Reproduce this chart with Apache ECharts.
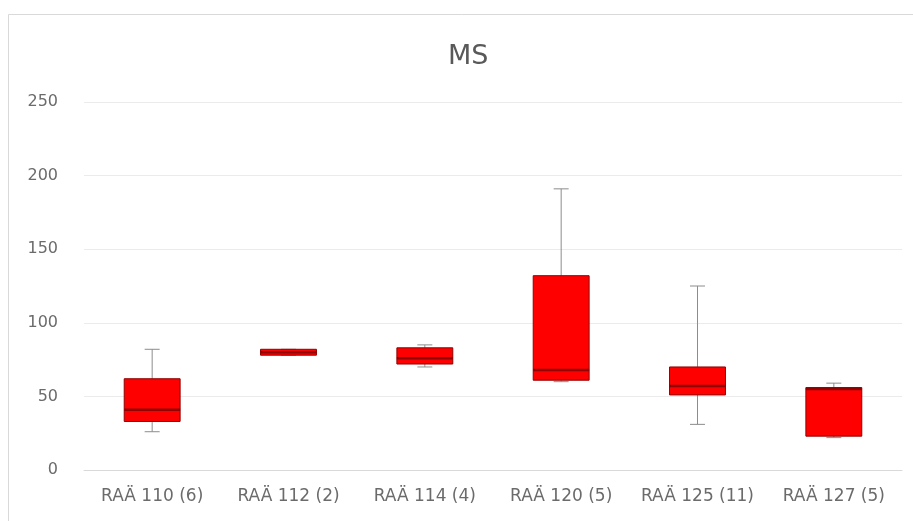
<!DOCTYPE html>
<html>
<head>
<meta charset="utf-8">
<script src="https://cdn.jsdelivr.net/npm/echarts@6/dist/echarts.min.js"></script>
<style>html,body{margin:0;padding:0;background:#fff}#c{width:913px;height:521px}</style>
</head>
<body>
<div id="c"></div>
<script>
var categories = ['RAÄ 110 (6)', 'RAÄ 112 (2)', 'RAÄ 114 (4)', 'RAÄ 120 (5)', 'RAÄ 125 (11)', 'RAÄ 127 (5)'];
var minVals    = [26, 78, 70, 60, 31, 22];
var q1Vals     = [33, 78, 72, 61, 51, 23];
var medianVals = [41, 80, 76, 68, 57, 55];
var q3Vals     = [62, 82, 83, 132, 70, 56];
var maxVals    = [82, 82, 85, 191, 125, 59];
var yTicks = [0, 50, 100, 150, 200, 250];

var boxData = categories.map(function (c, i) {
  return [i, minVals[i], q1Vals[i], medianVals[i], q3Vals[i], maxVals[i]];
});

var chart = echarts.init(document.getElementById('c'), null, {renderer: 'canvas'});
chart.setOption({
  animation: false,
  backgroundColor: '#ffffff',
  title: {
    text: 'MS', left: 443, top: 38,
    textStyle: {fontFamily: 'DejaVu Sans', fontSize: 27, fontWeight: 'normal', color: '#595959'}
  },
  graphic: [{
    type: 'rect', shape: {x: 8.5, y: 14.5, width: 1000, height: 1000},
    style: {fill: 'none', stroke: '#d9d9d9', lineWidth: 1}, silent: true
  }],
  grid: {left: 84, right: 11, top: 102, bottom: 51},
  xAxis: {
    type: 'category', data: categories,
    axisLine: {lineStyle: {color: '#d9d9d9'}},
    axisTick: {show: false},
    axisLabel: {fontFamily: 'DejaVu Sans', fontSize: 17, color: '#6b6b6b', margin: 18, interval: 0}
  },
  yAxis: {
    type: 'value', min: yTicks[0], max: yTicks[yTicks.length - 1], interval: 50,
    axisLine: {show: false}, axisTick: {show: false},
    splitLine: {lineStyle: {color: '#ebebeb'}},
    axisLabel: {fontFamily: 'DejaVu Sans', fontSize: 16, color: '#6b6b6b', margin: 26}
  },
  series: [{
    type: 'custom',
    data: boxData,
    encode: {x: 0, y: [1, 2, 3, 4, 5]},
    renderItem: function (params, api) {
      var idx = api.value(0);
      var pMin = api.coord([idx, api.value(1)]);
      var pQ1 = api.coord([idx, api.value(2)]);
      var pMed = api.coord([idx, api.value(3)]);
      var pQ3 = api.coord([idx, api.value(4)]);
      var pMax = api.coord([idx, api.value(5)]);
      var band = api.size([1, 0])[0];
      var w = band * 0.41;
      var cap = band * 0.11;
      var x = pQ1[0];
      var grey = {stroke: '#8c8c8c', lineWidth: 1};
      return {
        type: 'group',
        children: [
          {type: 'line', shape: {x1: x, y1: pMax[1], x2: x, y2: pQ3[1]}, style: grey},
          {type: 'line', shape: {x1: x - cap / 2, y1: pMax[1], x2: x + cap / 2, y2: pMax[1]}, style: grey},
          {type: 'line', shape: {x1: x, y1: pMin[1], x2: x, y2: pQ1[1]}, style: grey},
          {type: 'line', shape: {x1: x - cap / 2, y1: pMin[1], x2: x + cap / 2, y2: pMin[1]}, style: grey},
          {type: 'rect', shape: {x: x - w / 2, y: pQ3[1], width: w, height: Math.max(pQ1[1] - pQ3[1], 1)},
            style: {fill: '#ff0000', stroke: '#8f0000', lineWidth: 1}},
          {type: 'line', shape: {x1: x - w / 2, y1: pMed[1], x2: x + w / 2, y2: pMed[1]},
            style: {stroke: '#8f0000', lineWidth: 2.5}}
        ]
      };
    }
  }]
});
</script>
</body>
</html>
